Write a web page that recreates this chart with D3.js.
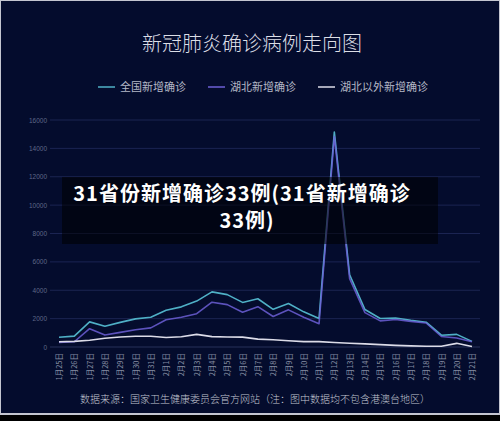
<!DOCTYPE html>
<html><head><meta charset="utf-8">
<script src="https://cdn.jsdelivr.net/npm/d3@7"></script>
<style>
html,body{margin:0;padding:0;background:#000;}
svg{display:block;}
</style></head>
<body>
<script>
const dates = ["1月25日","1月26日","1月27日","1月28日","1月29日","1月30日","1月31日","2月1日","2月2日","2月3日","2月4日","2月5日","2月6日","2月7日","2月8日","2月9日","2月10日","2月11日","2月12日","2月13日","2月14日","2月15日","2月16日","2月17日","2月18日","2月19日","2月20日","2月21日"];
const national = [688,769,1771,1459,1737,1982,2102,2590,2829,3235,3887,3694,3143,3399,2656,3062,2478,2015,15152,5090,2641,2009,2048,1886,1749,830,889,397];
const hubei = [323,371,1291,840,1032,1220,1347,1921,2103,2345,3156,2987,2447,2841,2147,2618,2097,1638,14840,4823,2420,1843,1933,1807,1693,740,631,366];
const outside = [365,398,480,619,705,762,755,669,726,890,731,707,696,558,509,444,381,377,312,267,221,166,115,79,56,50,258,31];
const yTicks = [0,2000,4000,6000,8000,10000,12000,14000,16000];
const seriesNames = ["全国新增确诊","湖北新增确诊","湖北以外新增确诊"];
const seriesColors = ["#4fb0c6","#6c5fd6","#dcdce8"];
const title = "新冠肺炎确诊病例走向图";
const source = "数据来源：国家卫生健康委员会官方网站（注：图中数据均不包含港澳台地区）";
const overlayLines = ["31省份新增确诊33例(31省新增确诊","33例)"];

const W = 500, H = 421;
const svg = d3.select("body").append("svg").attr("width", W).attr("height", H);
// frame
svg.append("rect").attr("x",0).attr("y",0).attr("width",W).attr("height",415).attr("fill","#c4c6d0");
svg.append("rect").attr("x",1).attr("y",1).attr("width",W-2).attr("height",412).attr("fill","#040c2d");
svg.append("rect").attr("x",0).attr("y",415).attr("width",W).attr("height",6).attr("fill","#000");

svg.append("text").attr("x",252).attr("y",51).attr("text-anchor","middle")
  .attr("font-family","'Noto Sans CJK SC'").attr("font-size",20).attr("font-weight",300)
  .attr("fill","#dcdee6").text(title);

// legend
const legX = [98,208,318];
seriesNames.forEach((n,i)=>{
  const g = svg.append("g");
  g.append("line").attr("x1",legX[i]).attr("x2",legX[i]+17).attr("y1",87).attr("y2",87)
    .attr("stroke",seriesColors[i]).attr("stroke-width",1.5);
  g.append("text").attr("x",legX[i]+22).attr("y",91).attr("font-family","'Noto Sans CJK SC'")
    .attr("font-size",11).attr("fill","#b4b8c6").text(n);
});

const x = d3.scalePoint().domain(dates).range([59,472]);
const y = d3.scaleLinear().domain([0,16000]).range([347,120]);

// grid
const grid = svg.append("g");
grid.selectAll("line").data(yTicks).join("line")
  .attr("x1",50).attr("x2",480).attr("y1",d=>y(d)).attr("y2",d=>y(d))
  .attr("stroke",d=>d===0?"#27305a":"#1b2452").attr("stroke-width",1);

const yAxis = svg.append("g").attr("transform","translate(47,0)")
  .call(d3.axisLeft(y).tickValues(yTicks).tickSize(0).tickPadding(0).tickFormat(d3.format("d")));
yAxis.select(".domain").remove();
yAxis.selectAll("text").attr("font-family","'Liberation Sans'").attr("font-size",6.5).attr("fill","#5f6888");

const xAxis = svg.append("g").attr("transform","translate(0,347)")
  .call(d3.axisBottom(x).tickSize(0).tickPadding(0));
xAxis.select(".domain").remove();
xAxis.selectAll("text").attr("transform","rotate(-90)").attr("text-anchor","end")
  .attr("x",-6).attr("y",0).attr("dy","0.35em")
  .attr("font-family","'Noto Sans CJK SC'").attr("font-size",7.5).attr("fill","#858da2");

const line = d3.line().x((d,i)=>x(dates[i])).y(d=>y(d));
[national, hubei, outside].forEach((s,i)=>{
  svg.append("path").datum(s).attr("d",line).attr("fill","none")
    .attr("stroke",seriesColors[i]).attr("stroke-width",1.6).attr("stroke-linejoin","round")
    .attr("stroke-opacity", i===1?0.85:1);
});

svg.append("text").attr("x",255).attr("y",403).attr("text-anchor","middle")
  .attr("font-family","'Noto Sans CJK SC'").attr("font-size",10).attr("font-weight",300)
  .attr("fill","#c2c6d2").text(source);

// overlay caption
svg.append("rect").attr("x",62).attr("y",177).attr("width",376).attr("height",67)
  .attr("fill","rgba(0,0,0,0.55)");
const overlayX = [242, 247];
overlayLines.forEach((t,i)=>{
  svg.append("text").attr("x",overlayX[i]).attr("y",201+i*27).attr("text-anchor","middle")
    .attr("font-family","'Noto Sans CJK SC'").attr("font-size",20).attr("font-weight",700)
    .attr("letter-spacing",1).attr("fill","#ffffff").text(t);
});
</script>
</body></html>
